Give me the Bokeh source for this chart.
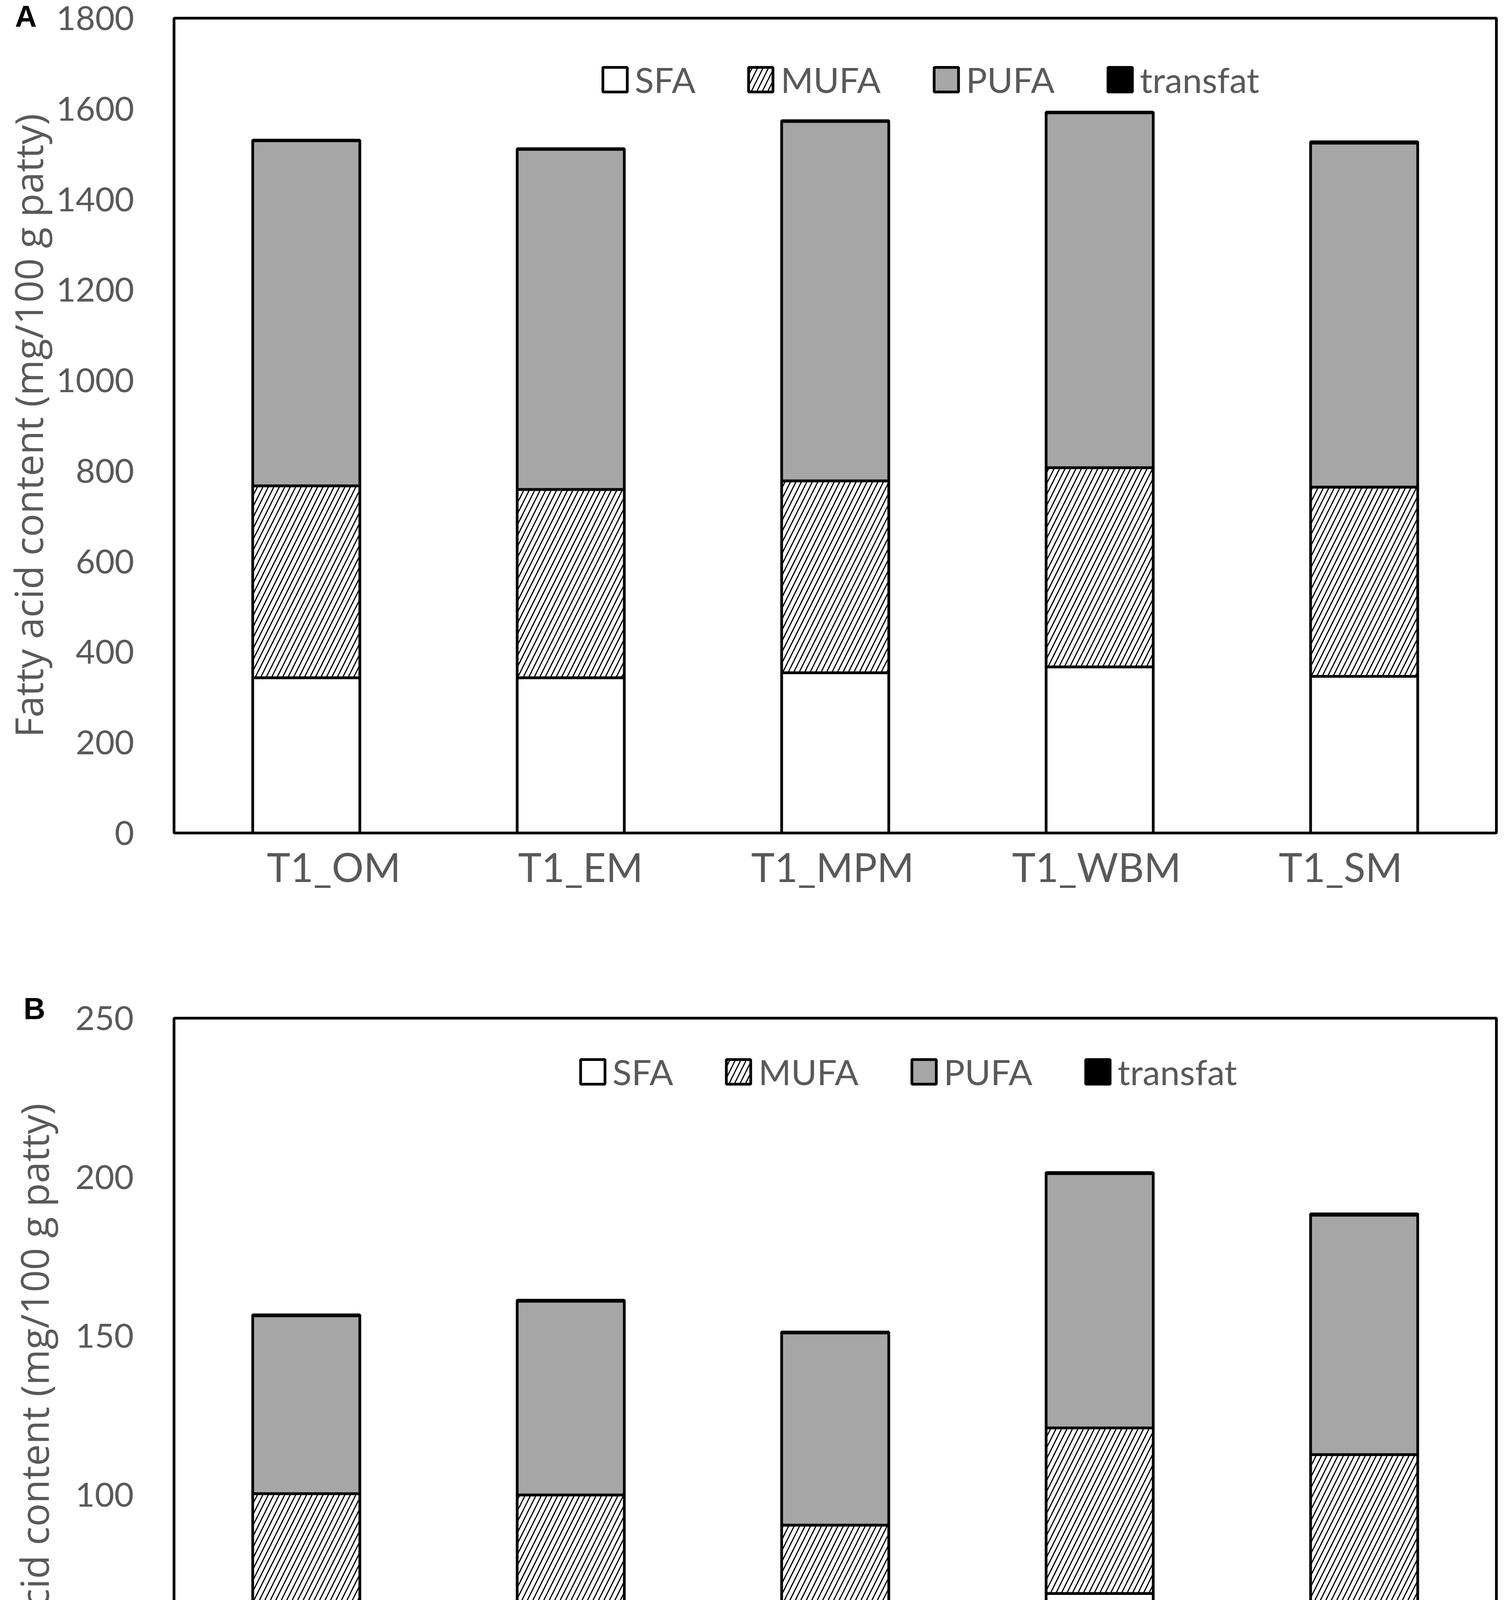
from bokeh.plotting import figure
from bokeh.models import (ColumnDataSource, Range1d, FixedTicker,
                          SingleIntervalTicker, Legend, LegendItem, Label)
from bokeh.layouts import column
from bokeh.transform import stack
from bokeh.embed import file_html
from bokeh.resources import INLINE

# ---------------- data ----------------
cats_A = ["T1_OM", "T1_EM", "T1_MPM", "T1_WBM", "T1_SM"]
sfa_A = [343, 343, 354, 367, 346]
mufa_A = [424, 416, 424, 440, 418]
pufa_A = [762, 751, 794, 784, 760]
trans_A = [1.5, 1.5, 1.5, 1.5, 3.0]

cats_B = ["T2_OM", "T2_EM", "T2_MPM", "T2_WBM", "T2_SM"]
sfa_B = [51.7, 53.2, 51.3, 68.9, 62.0]
mufa_B = [48.6, 46.7, 39.1, 52.1, 50.6]
pufa_B = [56.0, 61.0, 60.5, 80.1, 75.4]
trans_B = [0.3, 0.3, 0.3, 0.3, 0.4]

series = ["SFA", "MUFA", "PUFA", "transfat"]
y_title = "Fatty acid content (mg/100 g patty)"

# ---------------- layout / style ----------------
# label centres along the category axis (category slots, 0..5)
lab_pos_A = [0.604, 1.537, 2.490, 3.488, 4.411]
lab_pos_B = [0.805, 1.624, 2.499, 3.560, 4.442]

FONT = "Lato"
TFONT = "Open Sans"
TXT = "#595959"
GRAY = "#a6a6a6"
BW = 0.405
LW = 7


def panel(cats, sfa, mufa, pufa, trans, ymax, yint, lab_pos, letter, cfg):
    slot = [i + 0.5 for i in range(len(cats))]   # centre of each category slot
    src = ColumnDataSource(dict(x=slot, cat=cats, SFA=sfa, MUFA=mufa, PUFA=pufa, transfat=trans))
    p = figure(x_range=Range1d(0, len(cats)), y_range=Range1d(0, ymax),
               width=cfg["w"], height=cfg["h"], output_backend="svg", toolbar_location=None,
               min_border=0, title=letter if cfg["use_title"] else None)
    p.min_border_left = cfg["bl"]
    p.min_border_right = cfg["br"]
    p.min_border_top = cfg["bt"]
    p.min_border_bottom = cfg["bb"]
    p.xgrid.visible = False
    p.ygrid.visible = False
    p.outline_line_color = "black"
    p.outline_line_width = LW
    p.outline_line_alpha = 1.0
    p.background_fill_color = "white"
    p.border_fill_color = "white"

    r1 = p.vbar(x="x", width=BW, bottom=0, top=stack("SFA"), source=src,
                fill_color="white", line_color="black", line_width=LW)
    r2 = p.vbar(x="x", width=BW, bottom=stack("SFA"), top=stack("SFA", "MUFA"), source=src,
                fill_color="white", line_color="black", line_width=LW,
                hatch_pattern="/", hatch_color="black", hatch_weight=3, hatch_scale=28)
    r3 = p.vbar(x="x", width=BW, bottom=stack("SFA", "MUFA"), top=stack("SFA", "MUFA", "PUFA"),
                source=src, fill_color=GRAY, line_color="black", line_width=LW)
    r4 = p.vbar(x="x", width=BW, bottom=stack("SFA", "MUFA", "PUFA"),
                top=stack("SFA", "MUFA", "PUFA", "transfat"), source=src,
                fill_color="black", line_color="black", line_width=LW)

    # y axis
    ya = p.yaxis[0]
    ya.ticker = SingleIntervalTicker(interval=yint, num_minor_ticks=0)
    ya.axis_line_color = None
    ya.major_tick_line_color = None
    ya.minor_tick_line_color = None
    ya.major_label_text_font = FONT
    ya.major_label_text_font_size = "86px"
    ya.major_label_text_color = TXT
    ya.major_label_standoff = cfg["ystand"]
    ya.axis_label = y_title
    ya.axis_label_text_font = TFONT
    ya.axis_label_text_font_size = "99px"
    ya.axis_label_text_font_style = "normal"
    ya.axis_label_text_color = TXT
    ya.axis_label_standoff = cfg["ttlstand"]

    # category labels (placed with their own offsets, as in the original)
    xa = p.xaxis[0]
    xa.ticker = FixedTicker(ticks=lab_pos)
    xa.major_label_overrides = {pos: c for pos, c in zip(lab_pos, cats)}
    xa.axis_line_color = None
    xa.major_tick_line_color = None
    xa.minor_tick_line_color = None
    xa.major_label_text_font = FONT
    xa.major_label_text_font_size = "102px"
    xa.major_label_text_color = TXT
    xa.major_label_standoff = cfg["xstand"]

    leg = Legend(items=[LegendItem(label=s, renderers=[r]) for s, r in zip(series, [r1, r2, r3, r4])],
                 orientation="horizontal", location=cfg["legloc"])
    leg.background_fill_alpha = 0
    leg.border_line_color = None
    leg.padding = 0
    leg.margin = 0
    leg.spacing = 128
    leg.label_standoff = 12
    leg.glyph_width = 78
    leg.glyph_height = 79
    leg.label_height = 79
    leg.label_text_font = FONT
    leg.label_text_font_size = "90px"
    leg.label_text_color = TXT
    p.add_layout(leg)

    if cfg["use_title"]:
        # panel letter as a left-aligned title pulled down beside the top tick
        t = p.title
        t.align = "left"
        t.offset = cfg["toff"]
        t.standoff = cfg["tstand"]
        t.text_font = "Liberation Sans"
        t.text_font_style = "bold"
        t.text_font_size = "77px"
        t.text_color = "black"
    else:
        lab = Label(x=cfg["lx"], y=cfg["ly"], text=letter,
                    text_font="Liberation Sans", text_font_style="bold", text_font_size="77px",
                    text_color="black", text_baseline="middle", text_align="left")
        p.add_layout(lab, "above")
    return p


cfgA = dict(w=3834, h=2412, bl=445, br=4, bt=46, bb=280, ystand=96, ttlstand=2,
            xstand=18, legloc=(1090, 1875), use_title=True, toff=-407, tstand=-76)
cfgB = dict(w=3834, h=2432, bl=429, br=4, bt=194, bb=205, ystand=97, ttlstand=36,
            xstand=72, legloc=(1033, 1842), use_title=False, lx=-0.569, ly=253)

pA = panel(cats_A, sfa_A, mufa_A, pufa_A, trans_A, 1800, 200, lab_pos_A, "A", cfgA)
pB = panel(cats_B, sfa_B, mufa_B, pufa_B, trans_B, 250, 50, lab_pos_B, "B", cfgB)

lay = column(pA, pB, spacing=0)
open("out.html", "w").write(file_html(lay, INLINE))
